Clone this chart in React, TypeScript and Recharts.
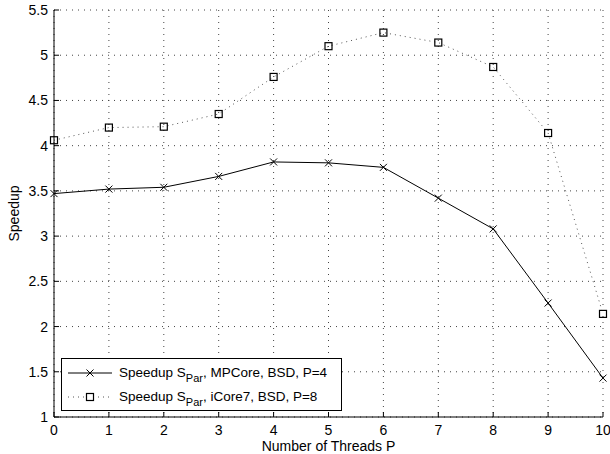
import React from 'react';
import { LineChart, Line, XAxis, YAxis, CartesianGrid, Legend } from 'recharts';

const threads = [0, 1, 2, 3, 4, 5, 6, 7, 8, 9, 10];
const mpcore = [3.47, 3.52, 3.54, 3.66, 3.82, 3.81, 3.76, 3.42, 3.08, 2.26, 1.43];
const icore7 = [4.06, 4.2, 4.21, 4.35, 4.76, 5.1, 5.25, 5.14, 4.87, 4.14, 2.14];
const xTicks = [0, 1, 2, 3, 4, 5, 6, 7, 8, 9, 10];
const yTicks = [1, 1.5, 2, 2.5, 3, 3.5, 4, 4.5, 5, 5.5];
const xMinorTicks = Array.from({ length: 51 }, (_, i) => Math.round(i * 2) / 10);
const yMinorTicks = Array.from({ length: 46 }, (_, i) => Math.round(10 + i) / 10);

const data = threads.map((t, i) => ({ t, mpcore: mpcore[i], icore7: icore7[i] }));

const FONT = '"Liberation Sans", Arial, Helvetica, sans-serif';

const XDot = (props: any) => {
  const { cx, cy } = props;
  if (cx == null || cy == null) return null;
  const s = 3.5;
  return (
    <g>
      <line x1={cx - s} y1={cy - s} x2={cx + s} y2={cy + s} stroke="#000" strokeWidth={1} />
      <line x1={cx - s} y1={cy + s} x2={cx + s} y2={cy - s} stroke="#000" strokeWidth={1} />
    </g>
  );
};

const SquareDot = (props: any) => {
  const { cx, cy } = props;
  if (cx == null || cy == null) return null;
  const s = 3.5;
  return <rect x={cx - s} y={cy - s} width={2 * s} height={2 * s} fill="none" stroke="#000" strokeWidth={1.2} />;
};

const LegendBox = () => {
  const row = (solid: boolean, label: React.ReactNode) => (
    <div style={{ display: 'flex', alignItems: 'center', height: 24 }}>
      <svg width={52} height={14} style={{ flex: 'none' }}>
        <line x1={4} y1={7} x2={48} y2={7} stroke={solid ? '#000' : '#555'} strokeWidth={1} strokeDasharray={solid ? undefined : '1 4'} />
        {solid ? (
          <g>
            <line x1={22.5} y1={3.5} x2={29.5} y2={10.5} stroke="#000" />
            <line x1={22.5} y1={10.5} x2={29.5} y2={3.5} stroke="#000" />
          </g>
        ) : (
          <rect x={22.5} y={3.5} width={7} height={7} fill="#fff" stroke="#000" strokeWidth={1.2} />
        )}
      </svg>
      <span style={{ marginLeft: 3, whiteSpace: 'nowrap' }}>{label}</span>
    </div>
  );
  return (
    <div
      style={{
        border: '1.5px solid #000',
        background: '#fff',
        width: 281,
        height: 53,
        boxSizing: 'border-box',
        padding: '2px 0 0 2px',
        fontFamily: FONT,
        fontSize: 13.5,
        color: '#000',
        lineHeight: '14px',
      }}
    >
      {row(true, <>Speedup S<sub style={{ fontSize: 11, verticalAlign: -5, lineHeight: 0 }}>Par</sub>, MPCore, BSD, P=4</>)}
      {row(false, <>Speedup S<sub style={{ fontSize: 11, verticalAlign: -5, lineHeight: 0 }}>Par</sub>, iCore7, BSD, P=8</>)}
    </div>
  );
};

export default function App() {
  return (
    <div style={{ position: 'absolute', left: 0, top: 0, width: 610, height: 454, background: '#fff' }}>
      <LineChart
        width={610}
        height={454}
        data={data}
        margin={{ top: 10, right: 7, left: 0, bottom: 0 }}
        style={{ fontFamily: FONT }}
      >
        <CartesianGrid
          xAxisId="x"
          yAxisId="y"
          stroke="#444"
          strokeDasharray="1 5"
          horizontalValues={yTicks}
          verticalValues={xTicks}
        />
        <XAxis
          xAxisId="xm"
          dataKey="t"
          type="number"
          domain={[0, 10]}
          ticks={xMinorTicks}
          tick={false}
          tickSize={-3}
          axisLine={false}
          tickLine={{ stroke: '#000' }}
          height={0}
          interval={0}
        />
        <XAxis
          xAxisId="x"
          dataKey="t"
          type="number"
          domain={[0, 10]}
          ticks={xTicks}
          interval={0}
          tickSize={-5}
          tickMargin={13}
          height={37}
          axisLine={{ stroke: '#000' }}
          tickLine={{ stroke: '#000' }}
          tick={{ fill: '#000', fontSize: 14, fontFamily: FONT }}
          label={{
            content: (p: any) => {
              const vb = p.viewBox || { x: 54, width: 549, y: 417, height: 37 };
              return (
                <text x={vb.x + vb.width / 2} y={vb.y + 34} textAnchor="middle" fill="#000" fontSize={14} fontFamily={FONT}>
                  Number of Threads P
                </text>
              );
            },
          }}
        />
        <YAxis
          yAxisId="ym"
          type="number"
          domain={[1, 5.5]}
          ticks={yMinorTicks}
          tick={false}
          tickSize={-3}
          axisLine={false}
          tickLine={{ stroke: '#000' }}
          width={0}
          interval={0}
        />
        <YAxis
          yAxisId="y"
          type="number"
          domain={[1, 5.5]}
          ticks={yTicks}
          interval={0}
          tickSize={-5}
          tickMargin={11}
          width={54}
          axisLine={{ stroke: '#000' }}
          tickLine={{ stroke: '#000' }}
          tick={{ fill: '#000', fontSize: 14, fontFamily: FONT }}
          label={{
            content: (p: any) => {
              const vb = p.viewBox || { x: 0, width: 54, y: 10, height: 407 };
              const cx = vb.x + 19;
              const cy = vb.y + vb.height / 2;
              return (
                <text x={cx} y={cy} transform={`rotate(-90 ${cx} ${cy})`} textAnchor="middle" fill="#000" fontSize={14} fontFamily={FONT}>
                  Speedup
                </text>
              );
            },
          }}
        />
        <Line
          xAxisId="x"
          yAxisId="y"
          type="linear"
          dataKey="icore7"
          stroke="#555"
          strokeWidth={1}
          strokeDasharray="1 4"
          dot={<SquareDot />}
          activeDot={false}
          isAnimationActive={false}
        />
        <Line
          xAxisId="x"
          yAxisId="y"
          type="linear"
          dataKey="mpcore"
          stroke="#000"
          strokeWidth={1}
          dot={<XDot />}
          activeDot={false}
          isAnimationActive={false}
        />
        <Legend
          layout="horizontal"
          verticalAlign="middle"
          align="center"
          content={() => <LegendBox />}
          wrapperStyle={{ position: 'absolute', left: 61, top: 358, width: 'auto', bottom: 'auto', right: 'auto' }}
        />
      </LineChart>
    </div>
  );
}
